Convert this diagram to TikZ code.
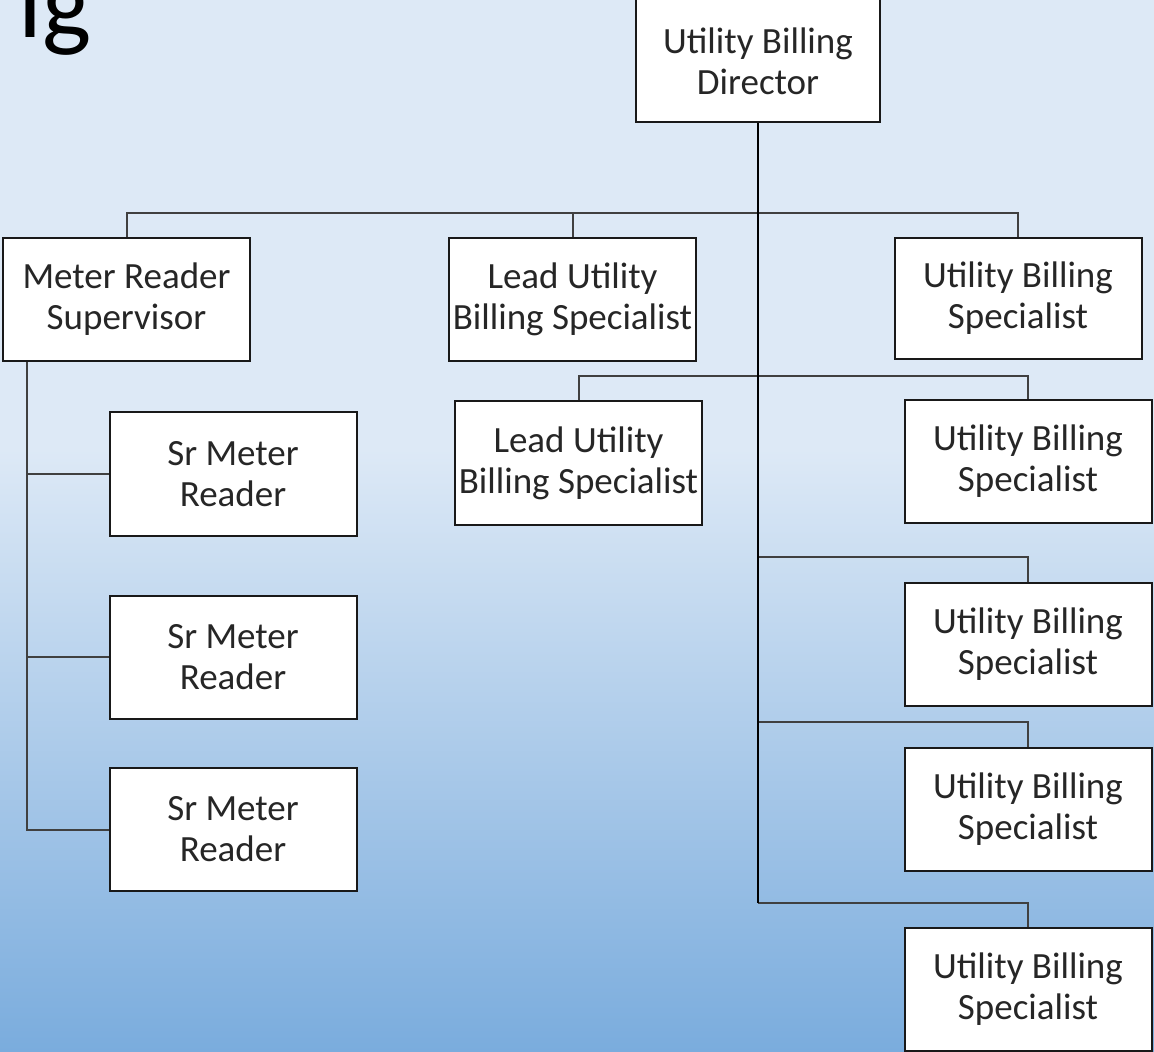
\documentclass[tikz,border=0pt]{standalone}
\usepackage{fontspec}
\setmainfont{Carlito}
\usepackage{tikz}
\usetikzlibrary{calc,positioning}

\definecolor{bgtop}{RGB}{221,233,246}
\definecolor{bgbot}{RGB}{122,172,221}

\tikzset{
    role/.style={draw=black!90, line width=1pt, fill=white, text=black!85,
        minimum width=123.5pt, minimum height=61.5pt, inner sep=0pt, align=center,
        font=\fontsize{18.5}{20.5}\selectfont},
    link/.style={draw=black!75, line width=1pt},
    trunk/.style={draw=black, line width=1.3pt}
}

\begin{document}
\begin{tikzpicture}[x=0.5pt,y=-0.5pt]
        \useasboundingbox (0,0) rectangle (1154,1052);
        % background
        \fill[bgtop] (0,0) rectangle (1154,450);
        \shade[top color=bgtop, bottom color=bgbot] (0,449) rectangle (1154,1052);
        \node[anchor=base west, inner sep=0pt, text=black, font=\fontsize{52}{52}\selectfont] (title) at (18,38) {lg};

        % boxes
        \node[role, minimum width=122pt] (dir) at (758,61) {Utility Billing\\Director};
        \node[role] (msup) at (126.5,299.5) {Meter Reader\\Supervisor};
        \node[role] (lead1) at (572.5,299.5) {Lead Utility\\Billing Specialist};
        \node[role, minimum height=60.5pt] (ubs1) at (1018,298.5) {Utility Billing\\Specialist};
        \node[role] (lead2) at (578.5,463) {Lead Utility\\Billing Specialist};
        \node[role, minimum height=61.5pt] (ubs2) at (1028,461.5) {Utility Billing\\Specialist};
        \node[role] (ubs3) at (1028,644) {Utility Billing\\Specialist};
        \node[role] (ubs4) at (1028,809) {Utility Billing\\Specialist};
        \node[role] (ubs5) at (1028,989) {Utility Billing\\Specialist};
        \node[role] (sr1) at (233,474) {Sr Meter\\Reader};
        \node[role] (sr2) at (233,657) {Sr Meter\\Reader};
        \node[role] (sr3) at (233,829.5) {Sr Meter\\Reader};

        % connectors
        \coordinate (bus) at (758,213);
        \coordinate (bus2) at (758,376);
        \draw[link] (msup.north) |- (bus) -| (ubs1.north);
        \draw[link] (lead1.north) -- (lead1.north |- bus);
        \draw[link] (lead2.north) |- (bus2) -| (ubs2.north);
        \foreach \n/\y in {ubs3/557,ubs4/722,ubs5/903}
            \draw[link] (\n.north) |- (758,\y) coordinate (t\n);
        \draw[trunk] (dir.south) -- (tubs5);
        \draw[link] (msup.south west) ++(25,0) coordinate (ls) -- (ls |- sr3.west) -- (sr3.west);
        \foreach \i in {1,2}
            \draw[link] (sr\i.west) -- (sr\i.west -| ls);
    \end{tikzpicture}
\end{document}
